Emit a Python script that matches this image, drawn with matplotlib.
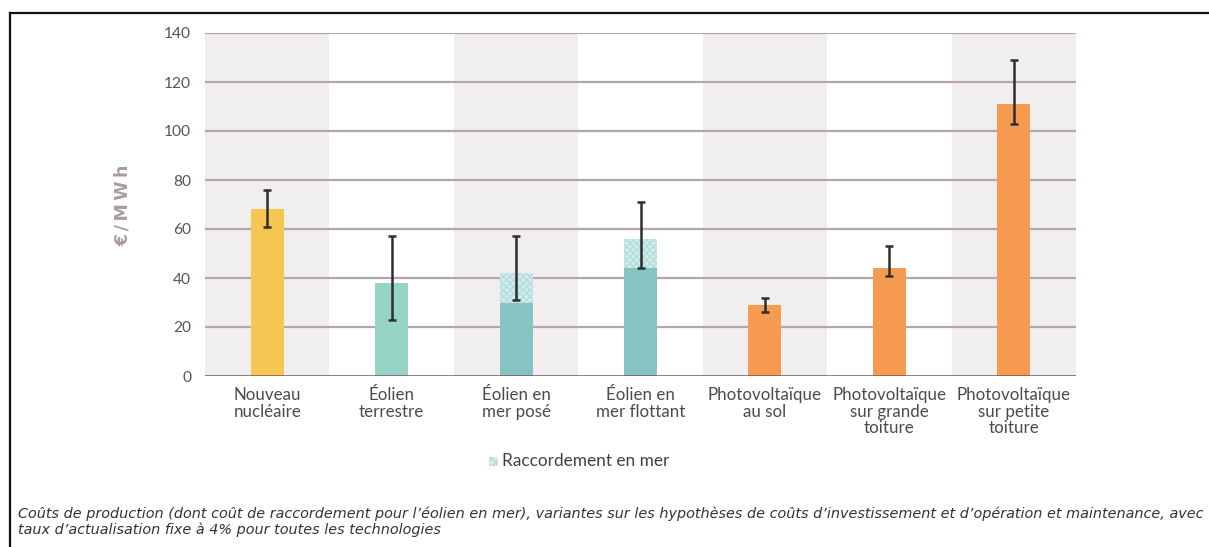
import matplotlib
matplotlib.use("Agg")
import matplotlib.pyplot as plt
from matplotlib.patches import Rectangle
from matplotlib.lines import Line2D
import numpy as np

# Technologies and production costs (€/MWh)
categories = [
    "Nouveau\nnucléaire",
    "Éolien\nterrestre",
    "Éolien en\nmer posé",
    "Éolien en\nmer flottant",
    "Photovoltaïque\nau sol",
    "Photovoltaïque\nsur grande\ntoiture",
    "Photovoltaïque\nsur petite\ntoiture",
]
base_cost = [68, 38, 30, 44, 29, 44, 111]
connection_cost = [0, 0, 12, 12, 0, 0, 0]
range_low = [61, 23, 31, 44, 26, 41, 103]
range_high = [76, 57, 57, 71, 32, 53, 129]
bar_colors = ["#f6c653", "#97d4c5", "#87c3c3", "#87c3c3", "#f79b51", "#f79b51", "#f79b51"]
yticks = [0, 20, 40, 60, 80, 100, 120, 140]
unit_label = "€/MWh"
legend_label = "Raccordement en mer"
caption = ("Coûts de production (dont coût de raccordement pour l’éolien en mer), variantes sur les hypothèses "
           "de coûts d’investissement et d’opération et maintenance, avec\n"
           "taux d’actualisation fixe à 4% pour toutes les technologies")

W, H = 1209, 547
fig = plt.figure(figsize=(W / 100, H / 100), dpi=100)
fig.patch.set_facecolor("white")

ax = fig.add_axes([205 / W, 1 - 376 / H, (1076 - 205) / W, (376 - 33) / H])
x = np.arange(len(categories))
ax.set_xlim(-0.5, len(categories) - 0.5)
ax.set_ylim(0, 140)

# alternating column shading
for i in x:
    if i % 2 == 0:
        ax.axvspan(i - 0.5, i + 0.5, color="#f0eeef", zorder=0, lw=0)

# horizontal grid
for t in yticks[1:]:
    ax.axhline(t, color="#b5a5b1", lw=1.6, zorder=1)
ax.axhline(0, color="#6a5a64", lw=1.8, zorder=4)

bw = 0.265
ax.bar(x, base_cost, width=bw, color=bar_colors, zorder=2, lw=0)
conn = np.array(connection_cost)
mask = conn > 0
ax.bar(x[mask], conn[mask], width=bw, bottom=np.array(base_cost)[mask],
       facecolor="#d3ecec", edgecolor="#b4dddd", hatch="xxxxx", lw=0, zorder=2)

lo = np.array(range_low)
hi = np.array(range_high)
mid = (lo + hi) / 2
ax.errorbar(x, mid, yerr=(hi - lo) / 2, fmt="none", ecolor="#2e2e2e",
            elinewidth=1.8, capsize=3.2, capthick=1.8, zorder=3)

for s in ax.spines.values():
    s.set_visible(False)
ax.set_yticks(yticks)
ax.set_yticklabels([str(t) for t in yticks], fontsize=11.2, color="#555560", family="Lato")
ax.tick_params(axis="y", length=0, pad=10)
ax.set_xticks(x)
ax.set_xticklabels(categories, fontsize=12.2, color="#4a4a52", family="Lato", linespacing=1.05)
ax.tick_params(axis="x", length=0, pad=8)

fig.text(123 / W, 1 - 205 / H, "\u2009".join(unit_label), rotation=90, ha="center", va="center",
         fontsize=12.5, fontweight="bold", color="#a99ba4", family="DejaVu Sans")

# legend
lx, ly = 489, 461
fig.patches.append(Rectangle((lx / W, 1 - (ly + 5) / H), 9 / W, 9 / H, transform=fig.transFigure,
                             facecolor="#d3ecec", edgecolor="#b4dddd", hatch="xxxx", lw=0))
fig.text(502 / W, 1 - ly / H, legend_label, ha="left", va="center", fontsize=12.4,
         color="#404048", family="Lato")

# caption
fig.text(18 / W, 1 - 521.5 / H, caption, ha="left", va="center", fontsize=10.4,
         style="italic", color="#333333", family="DejaVu Sans", linespacing=1.12)

# frame lines
fig.add_artist(Line2D([10 / W, 1.0], [1 - 13 / H, 1 - 13 / H], transform=fig.transFigure,
                      color="#111111", lw=1.6))
fig.add_artist(Line2D([10 / W, 10 / W], [0, 1 - 13 / H], transform=fig.transFigure,
                      color="#111111", lw=1.6))

fig.savefig("out.png", dpi=100)
